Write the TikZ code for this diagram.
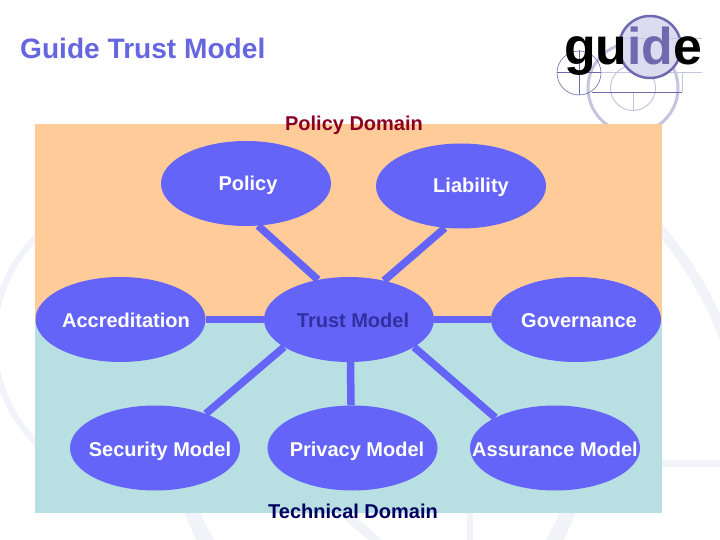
\documentclass[tikz,border=0pt]{standalone}
\usepackage{fontspec}
\setmainfont{Liberation Sans}
\usetikzlibrary{shapes.geometric}
\definecolor{ghost}{HTML}{F2F2F9}
\definecolor{logopurple}{HTML}{6F6AB0}
\definecolor{logopale}{HTML}{DCDCF0}
\definecolor{logoring}{HTML}{C4C4E0}
\definecolor{ovalblue}{HTML}{6464F8}
\definecolor{titleblue}{HTML}{6666E0}
\tikzset{
  oval/.style={ellipse, fill=ovalblue, minimum width=170pt, minimum height=85pt, inner sep=0pt},
  spoke/.style={draw=ovalblue, line width=7.5pt},
  lbl/.style={anchor=base, inner sep=0pt, font=\bfseries\fontsize{20}{24}\selectfont},
  ghostline/.style={draw=ghost}
}
\begin{document}
\begin{tikzpicture}[x=1pt,y=-1pt]
\useasboundingbox (0,0) rectangle (720,540);
\clip (0,0) rectangle (720,540);
% Watermark
\draw[ghostline, line width=6pt] (141,340) circle (147pt);
\draw[ghostline, line width=15pt] (380,438) circle (202pt);
\draw[ghostline, line width=10pt] (655,224) .. controls (686,258) and (710,298) .. (726,342);
\draw[ghostline, line width=7pt] (660,463) -- (720,463);
\draw[ghostline, line width=6pt] (470,510) -- (470,540);
\draw[ghostline, line width=9pt] (340,510) -- (378,542);
% Logo
\draw[logoring, line width=3pt] (633,88) circle (45pt);
\draw[logoring, line width=1pt] (633,88) circle (22.5pt);
\draw[logoring, line width=0.8pt] (633,92) -- (633,110);
\draw[logoring, line width=0.8pt] (567,72) -- (702,72);
\draw[logoring, line width=0.8pt] (682,72) -- (682,92);
\draw[logopurple, line width=0.8pt] (592,92) -- (682,92);
\draw[logopurple, fill=logopale, line width=2.5pt] (650,47) circle (31pt);
\draw[logoring, line width=0.8pt] (617,38) -- (702,38);
\draw[logopurple, line width=0.6pt] (579,73) circle (22pt);
\draw[logopurple, line width=0.6pt] (557,72) -- (601,72);
\draw[logopurple, line width=0.6pt] (579,50) -- (579,95);
\node[anchor=base west, inner sep=0pt, font=\bfseries\fontsize{51.8}{60}\selectfont] (logo) at (564,65)
    {gu\textcolor{logopurple}{id}e};
% Title
\node[lbl, anchor=base west, text=titleblue, font=\bfseries\fontsize{28.1}{32}\selectfont] (title) at (20,59) {Guide Trust Model};
% Domains
\fill[fill={rgb,255:red,255;green,204;blue,153}] (35,124) rectangle (662,322);
\fill[fill={rgb,255:red,184;green,223;blue,225}] (35,322) rectangle (662,513);
\node[lbl, text={rgb,255:red,139;green,0;blue,34}] (policydomain) at (354,131) {Policy Domain};
\node[lbl, text={rgb,255:red,0;green,0;blue,96}] (technicaldomain) at (353,518) {Technical Domain};
% Ovals
\node[oval] (policy) at (246,183.5) {};
\node[oval] (liability) at (461,186) {};
\node[oval] (accreditation) at (120.5,319.5) {};
\node[oval] (trust) at (349,319.5) {};
\node[oval] (governance) at (576,319.5) {};
\node[oval] (security) at (155,448) {};
\node[oval] (privacy) at (352.5,448) {};
\node[oval] (assurance) at (555,448) {};
% Spokes
\draw[spoke] (policy.-74) -- (trust.128);
\draw[spoke] (liability.-111) -- (trust.48);
\draw[spoke] (accreditation.east) -- (trust.west);
\draw[spoke] (trust.east) -- (governance.west);
\draw[spoke] (security.34) -- (trust.203);
\draw[spoke] (trust.-88) -- (privacy.92);
\draw[spoke] (trust.-23) -- (assurance.153);
% Labels
\node[lbl, text=white] (policytext) at (248,191) {Policy};
\node[lbl, text=white] (liabilitytext) at (471,193) {Liability};
\node[lbl, text=white] (accreditationtext) at (126,327) {Accreditation};
\node[lbl, text={rgb,255:red,48;green,48;blue,160}] (trusttext) at (353,327) {Trust Model};
\node[lbl, text=white] (governancetext) at (579,327) {Governance};
\node[lbl, text=white] (securitytext) at (160,456) {Security Model};
\node[lbl, text=white] (privacytext) at (357,456) {Privacy Model};
\node[lbl, text=white] (assurancetext) at (555,456) {Assurance Model};
\end{tikzpicture}
\end{document}
